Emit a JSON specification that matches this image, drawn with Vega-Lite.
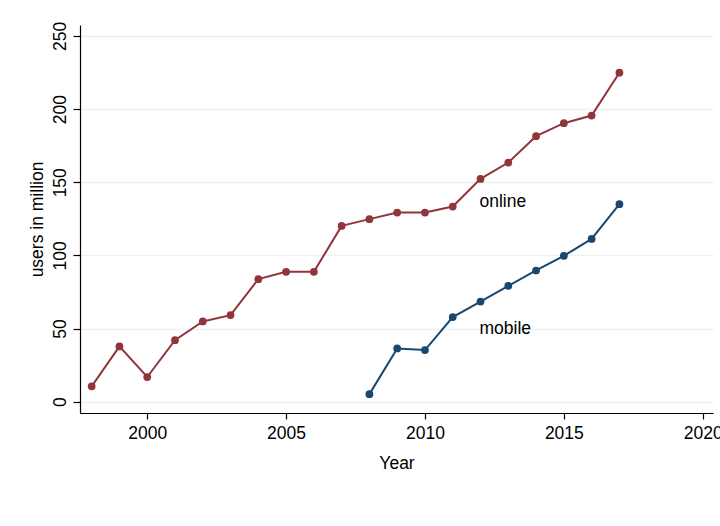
{
  "$schema": "https://vega.github.io/schema/vega-lite/v6.json",
  "autosize": {"type": "none"},
  "width": 633,
  "height": 388,
  "padding": {"left": 80, "top": 25, "right": 7, "bottom": 113},
  "background": "white",
  "config": {
    "view": {"stroke": null},
    "font": "Liberation Sans",
    "axis": {
      "labelFont": "Liberation Sans",
      "titleFont": "Liberation Sans",
      "labelFontSize": 17.5,
      "titleFontSize": 17.5,
      "titleFontWeight": "normal",
      "labelColor": "#000000",
      "titleColor": "#000000",
      "domainColor": "#000000",
      "tickColor": "#000000",
      "domainWidth": 1.2,
      "tickWidth": 1.2
    }
  },
  "datasets": {
    "series": [
      {"year": 1998, "users": 10.5, "series": "online"},
      {"year": 1999, "users": 37.8, "series": "online"},
      {"year": 2000, "users": 16.9, "series": "online"},
      {"year": 2001, "users": 42.1, "series": "online"},
      {"year": 2002, "users": 54.9, "series": "online"},
      {"year": 2003, "users": 59.2, "series": "online"},
      {"year": 2004, "users": 83.8, "series": "online"},
      {"year": 2005, "users": 88.8, "series": "online"},
      {"year": 2006, "users": 88.8, "series": "online"},
      {"year": 2007, "users": 120.2, "series": "online"},
      {"year": 2008, "users": 124.8, "series": "online"},
      {"year": 2009, "users": 129.3, "series": "online"},
      {"year": 2010, "users": 129.3, "series": "online"},
      {"year": 2011, "users": 133.4, "series": "online"},
      {"year": 2012, "users": 152.3, "series": "online"},
      {"year": 2013, "users": 163.5, "series": "online"},
      {"year": 2014, "users": 181.5, "series": "online"},
      {"year": 2015, "users": 190.4, "series": "online"},
      {"year": 2016, "users": 195.6, "series": "online"},
      {"year": 2017, "users": 224.9, "series": "online"},
      {"year": 2008, "users": 5.2, "series": "mobile"},
      {"year": 2009, "users": 36.4, "series": "mobile"},
      {"year": 2010, "users": 35.3, "series": "mobile"},
      {"year": 2011, "users": 57.9, "series": "mobile"},
      {"year": 2012, "users": 68.5, "series": "mobile"},
      {"year": 2013, "users": 79.2, "series": "mobile"},
      {"year": 2014, "users": 89.7, "series": "mobile"},
      {"year": 2015, "users": 99.7, "series": "mobile"},
      {"year": 2016, "users": 111.3, "series": "mobile"},
      {"year": 2017, "users": 135.0, "series": "mobile"}
    ],
    "labels": [
      {"year": 2012, "users": 136.6, "label": "online"},
      {"year": 2012, "users": 49.4, "label": "mobile"}
    ]
  },
  "encoding": {
    "x": {
      "field": "year",
      "type": "quantitative",
      "scale": {"domain": [1997.58, 2020.37], "nice": false, "zero": false},
      "axis": {
        "title": "Year",
        "values": [2000, 2005, 2010, 2015, 2020],
        "format": "d",
        "grid": false,
        "tickSize": 6,
        "labelPadding": 5,
        "titlePadding": 13,
        "labelFlush": false
      }
    },
    "y": {
      "field": "users",
      "type": "quantitative",
      "scale": {"domain": [-7.7, 257.5], "nice": false, "zero": false},
      "axis": {
        "title": "users in million",
        "values": [0, 50, 100, 150, 200, 250],
        "grid": true,
        "gridColor": "#eaf2f3",
        "gridWidth": 1.5,
        "tickSize": 7,
        "labelAngle": -90,
        "labelAlign": "center",
        "labelBaseline": "bottom",
        "labelPadding": 4,
        "titlePadding": 5,
        "labelFlush": false
      }
    }
  },
  "layer": [
    {
      "data": {"name": "series"},
      "mark": {"type": "line", "strokeWidth": 2, "point": {"filled": true, "size": 60, "opacity": 1}},
      "encoding": {
        "color": {
          "field": "series",
          "type": "nominal",
          "scale": {"domain": ["online", "mobile"], "range": ["#90353b", "#1a476f"]},
          "legend": null
        }
      }
    },
    {
      "data": {"name": "labels"},
      "mark": {"type": "text", "align": "left", "baseline": "middle", "fontSize": 17.5, "font": "Liberation Sans", "color": "#000000", "dx": -1},
      "encoding": {
        "text": {"field": "label", "type": "nominal"}
      }
    }
  ]
}
